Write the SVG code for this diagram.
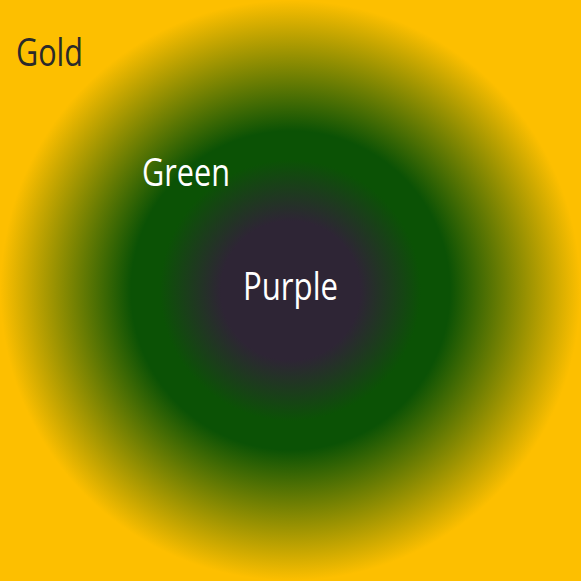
<svg xmlns="http://www.w3.org/2000/svg" width="581" height="581" viewBox="0 0 581 581">
<defs>
<radialGradient id="g" gradientUnits="userSpaceOnUse" cx="290.5" cy="290.5" r="290">
<stop offset="0" stop-color="#2e2535"/>
<stop offset="0.24" stop-color="#2e2535"/>
<stop offset="0.45" stop-color="#0b5205"/>
<stop offset="0.55" stop-color="#0b5205"/>
<stop offset="1" stop-color="#fdbf00"/>
</radialGradient>
<style>
text{font-family:"Open Sans","Noto Sans",sans-serif;font-size:39px}
.dark{fill:#2a2a2a}
.light{fill:#ffffff}
</style>
</defs>
<rect width="581" height="581" fill="url(#g)"/>
<text class="dark" x="16" y="66" textLength="67" lengthAdjust="spacingAndGlyphs">Gold</text>
<text class="light" x="142" y="186" textLength="88" lengthAdjust="spacingAndGlyphs">Green</text>
<text class="light" x="243" y="300" textLength="95" lengthAdjust="spacingAndGlyphs">Purple</text>
</svg>
